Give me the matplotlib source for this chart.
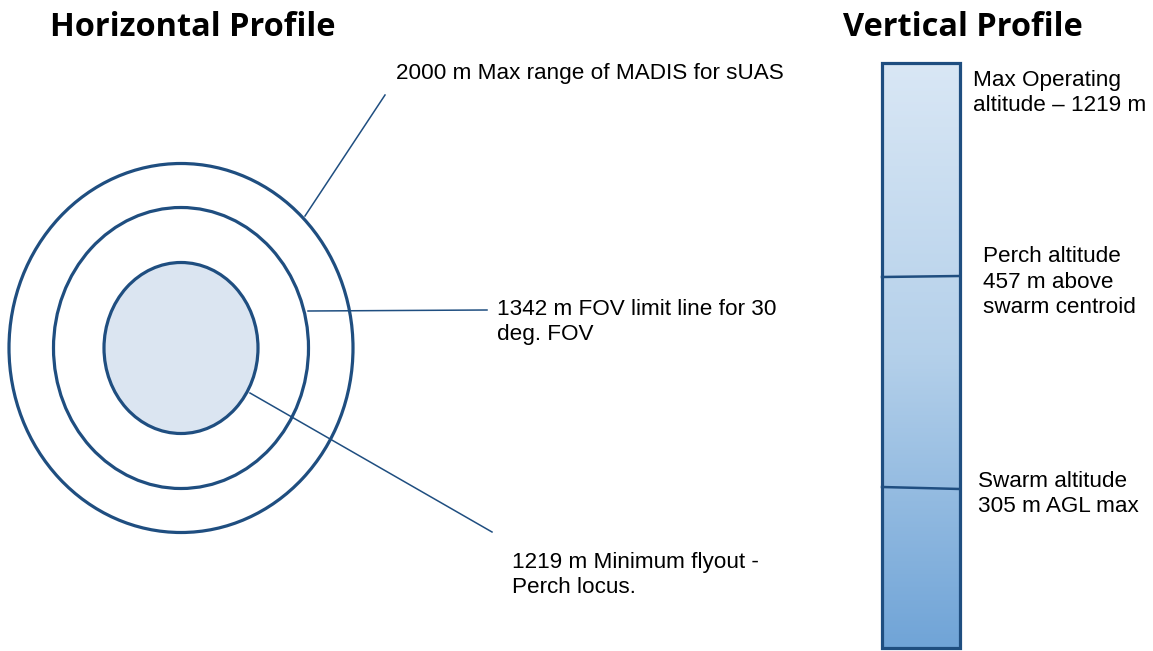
import numpy as np
import matplotlib.pyplot as plt
from matplotlib.patches import Ellipse, Rectangle
from matplotlib.colors import LinearSegmentedColormap

# horizontal profile rings (outer -> inner)
ring_labels = [
    "2000 m Max range of MADIS for sUAS",
    "1342 m FOV limit line for 30\ndeg. FOV",
    "1219 m Minimum flyout -\nPerch locus.",
]

# vertical profile levels (top -> bottom)
level_labels = [
    "Max Operating\naltitude \u2013 1219 m",
    "Perch altitude\n457 m above\nswarm centroid",
    "Swarm altitude\n305 m AGL max",
]

titles = ["Horizontal Profile", "Vertical Profile"]

navy = "#1f4e80"
text_font = "Liberation Sans"
title_font = "Open Sans"
fs = 16.2

fig = plt.figure(figsize=(11.53, 6.51), dpi=100)
ax = fig.add_axes([0, 0, 1, 1])
ax.set_xlim(0, 1153)
ax.set_ylim(651, 0)
ax.axis("off")

# titles
ax.text(193, 27, titles[0], fontsize=23.4, fontweight="bold", family=title_font,
        ha="center", va="center")
ax.text(963, 27, titles[1], fontsize=23.4, fontweight="bold", family=title_font,
        ha="center", va="center")

# rings
cx, cy = 181, 348
ring_sizes = [(344, 369), (255, 281), (154, 171)]
ring_fill = ["none", "none", "#dbe5f1"]
for (w, h), fc in zip(ring_sizes, ring_fill):
    ax.add_patch(Ellipse((cx, cy), w, h, facecolor=fc, edgecolor=navy, lw=2.3, zorder=2))

# leader lines and labels
leaders = [((305, 216), (385, 95)), ((308, 311), (487, 310)), ((250, 393), (492, 532))]
label_pos = [(396, 74), (497, 322), (512, 575)]
for (p0, p1), (tx, ty), lab in zip(leaders, label_pos, ring_labels):
    ax.plot([p0[0], p1[0]], [p0[1], p1[1]], color=navy, lw=1.1, zorder=1)
    ax.text(tx, ty, lab, fontsize=fs, family=text_font, ha="left", va="center",
            linespacing=1.28)

# vertical bar with gradient
x0, x1, y_top, y_bot = 882, 960, 63, 648
grad = np.linspace(0, 1, 256).reshape(-1, 1)
cmap = LinearSegmentedColormap.from_list("bar", ["#d9e7f5", "#b4d0ea", "#70a4d7"])
ax.imshow(grad, extent=[x0, x1, y_bot, y_top], cmap=cmap, aspect="auto", zorder=1)
ax.add_patch(Rectangle((x0, y_top), x1 - x0, y_bot - y_top, facecolor="none",
                       edgecolor=navy, lw=2.3, zorder=3))
level_lines = [(277, 276), (487, 489)]
for yl, yr in level_lines:
    ax.plot([x0, x1], [yl, yr], color=navy, lw=1.8, zorder=3)

level_pos = [(973, 93), (983, 282), (978, 494)]
for (tx, ty), lab in zip(level_pos, level_labels):
    ax.text(tx, ty, lab, fontsize=fs, family=text_font, ha="left", va="center",
            linespacing=1.28)

fig.savefig("out.png", dpi=100)
